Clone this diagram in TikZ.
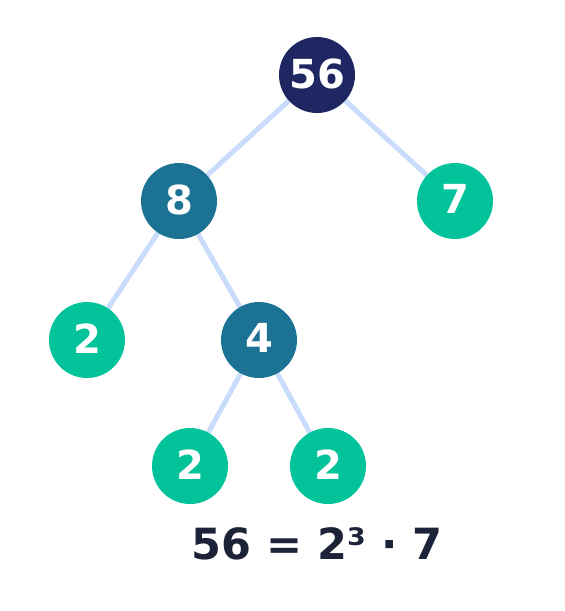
\documentclass[tikz,border=0pt]{standalone}
\usepackage{fontspec}
\setmainfont{DejaVu Sans}
\newcommand{\up}[1]{\raisebox{3.5pt}{#1}}
\begin{document}
\begin{tikzpicture}[x=1pt,y=-1pt,
  nodebase/.style={circle,minimum size=76pt,inner sep=0pt,text=white,font=\fontsize{40}{40}\selectfont\bfseries},
  rootn/.style={nodebase,fill=navy},
  compn/.style={nodebase,fill=tealc},
  primen/.style={nodebase,fill=greenc},
  edge/.style={draw=edgec,line width=5pt}]
\definecolor{navy}{HTML}{1E2761}
\definecolor{tealc}{HTML}{1C7293}
\definecolor{greenc}{HTML}{02C39A}
\definecolor{edgec}{HTML}{CADCFC}
\definecolor{textc}{HTML}{1C2238}
\useasboundingbox (0,0) rectangle (565,611);
\fill[white] (0,0) rectangle (565,611);
\coordinate (c56) at (317,75);
\coordinate (c8) at (179,201);
\coordinate (c7) at (455,201);
\coordinate (c2a) at (87,340);
\coordinate (c4) at (259,340);
\coordinate (c2b) at (190,466);
\coordinate (c2c) at (328,466);
\draw[edge] (c56) -- (c8);
\draw[edge] (c56) -- (c7);
\draw[edge] (c8) -- (c2a);
\draw[edge] (c8) -- (c4);
\draw[edge] (c4) -- (c2b);
\draw[edge] (c4) -- (c2c);
\node[rootn] (n56) at (c56) {\up{56}};
\node[compn] (n8) at (c8) {\up{8}};
\node[primen] (n7) at (c7) {\up{7}};
\node[primen] (n2a) at (c2a) {\up{2}};
\node[compn] (n4) at (c4) {\up{4}};
\node[primen] (n2b) at (c2b) {\up{2}};
\node[primen] (n2c) at (c2c) {\up{2}};
\node[text=textc,font=\fontsize{43}{43}\selectfont\bfseries] (eq) at (317,544) {56 = 2³ · 7};
\end{tikzpicture}
\end{document}
